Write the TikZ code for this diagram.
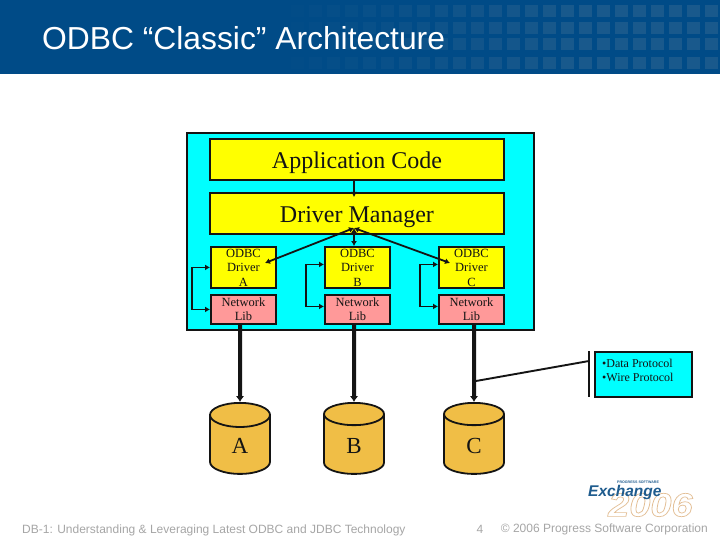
\documentclass[tikz,border=0pt]{standalone}
\usepackage{fontspec}
\setmainfont{Liberation Serif}
\newfontfamily\arialfont{Liberation Sans}
\usetikzlibrary{shapes.geometric,arrows.meta,calc}
\definecolor{hdr}{HTML}{004B87}
\definecolor{tile}{HTML}{19598C}
\definecolor{boxcy}{HTML}{00FFFF}
\definecolor{drvy}{HTML}{FFFF00}
\definecolor{netp}{HTML}{FF9999}
\definecolor{dbor}{HTML}{F0BE46}
\definecolor{edge}{HTML}{141414}
\definecolor{foot}{HTML}{A6A6A6}
\definecolor{logob}{HTML}{1F5C8E}
\definecolor{logoo}{HTML}{E4BE96}
\newcommand{\lowered}[2]{\raisebox{-#1}[0pt][0pt]{#2}}
\tikzset{
 x=1pt,y=-1pt,
 panel/.style={draw=edge,line width=1.9pt,fill=drvy,anchor=north west,inner sep=0pt,align=center,text=edge},
 big/.style={panel,font=\fontsize{24}{26}\selectfont,minimum width=294pt,minimum height=41pt},
 driver/.style={panel,font=\fontsize{12.5}{14.5}\selectfont,minimum width=65pt,minimum height=41pt},
 netlib/.style={panel,fill=netp,font=\fontsize{12.5}{14.5}\selectfont,minimum width=65pt,minimum height=29pt},
 db/.style={cylinder,shape border rotate=90,aspect=1.45,cylinder uses custom fill,cylinder body fill=dbor,cylinder end fill=dbor,
   draw=edge,line width=1.8pt,minimum width=60pt,minimum height=71pt,inner sep=0pt,anchor=north,font=\fontsize{23}{25}\selectfont,text=edge},
 link/.style={draw=edge,line width=1.8pt,{Latex[length=5pt,width=6pt]}-{Latex[length=5pt,width=6pt]}},
 oneway/.style={draw=edge,line width=1.8pt,-{Latex[length=5pt,width=6pt]}},
 plainline/.style={draw=edge,line width=1.9pt},
 bus/.style={draw=edge,line width=4pt,-{Latex[length=6pt,width=8.5pt]}},
 footer/.style={text=foot,font=\arialfont\fontsize{12}{14}\selectfont,inner sep=0pt},
}
\begin{document}
\begin{tikzpicture}
\useasboundingbox (0,0) rectangle (720,540);
\fill[white] (0,0) rectangle (720,540);
\fill[hdr] (0,0) rectangle (720,74);
\foreach \r in {5,22,38,57}{
 \foreach \c in {0,...,23}{
  \pgfmathtruncatemacro{\mixv}{min(100,8+6*\c)}
  \fill[tile!\mixv!hdr] ({291+18*\c},\r) rectangle ++(13,12);
 }
}
\node[anchor=west,text=white,inner sep=0pt,font=\arialfont\fontsize{31.8}{33}\selectfont] (title) at (42,38) {ODBC “Classic” Architecture};
% outer panel
\node[draw=edge,line width=1.9pt,fill=boxcy,anchor=north west,minimum width=347pt,minimum height=197pt,inner sep=0pt] (outer) at (186,132) {};
\node[big] (app) at (209,138) {\lowered{9pt}{Application Code}};
\node[big] (dm) at (209,192) {\lowered{9pt}{Driver Manager}};
\node[driver] (dA) at (210,246) {ODBC\\Driver\\A};
\node[driver] (dB) at (324,246) {ODBC\\Driver\\B};
\node[driver] (dC) at (438,246) {ODBC\\Driver\\C};
\node[netlib] (nA) at (210,294) {Network\\Lib};
\node[netlib] (nB) at (324,294) {Network\\Lib};
\node[netlib] (nC) at (438,294) {Network\\Lib};
\coordinate (hub) at (354,228);
\coordinate (tipA) at (265,263);
\coordinate (tipC) at (450,263);
\coordinate (appdrop) at (354,197);
\draw[oneway] (app.south -| hub) -- (appdrop);
\draw[link] (hub) -- (dB.north -| hub);
\draw[link] (hub) -- (tipA);
\draw[link] (hub) -- (tipC);
% driver to network loops
\draw[link] (dA.west) -- ++(-18,0) |- (nA.west);
\draw[link] ([yshift=3pt]dB.west) -- ++(-18,0) |- ([yshift=3pt]nB.west);
\draw[link] ([yshift=3pt]dC.west) -- ++(-18,0) |- ([yshift=3pt]nC.west);
% databases
\node[db] (dbA) at (240,402) {\lowered{9pt}{A}};
\node[db] (dbB) at (354,402) {\lowered{9pt}{B}};
\node[db] (dbC) at (474,402) {\lowered{9pt}{C}};
\draw[bus] (nA.south -| dbA) -- (dbA.north);
\draw[bus] (nB.south -| dbB) -- (dbB.north);
\draw[bus] (nC.south -| dbC) -- (dbC.north);
% protocol note
\node[panel,fill=boxcy,minimum width=97pt,minimum height=45pt] (note) at (594,351) {};
\node[anchor=north west,inner sep=0pt,align=left,text=edge,font=\fontsize{12}{14}\selectfont] (notetext) at (602,359) {•Data Protocol\\•Wire Protocol};
\coordinate (barT) at (589,351);
\coordinate (barB) at (589,397);
\coordinate (barM) at (589,361);
\coordinate (busJ) at (476,381);
\draw[plainline] (barT) -- (barB);
\draw[plainline] (barM) -- (busJ);
% footer
\node[footer,anchor=west] (f1) at (22,530) {DB-1: Understanding \& Leveraging Latest ODBC and JDBC Technology};
\node[footer,anchor=center] (f2) at (480,529) {4};
\node[footer,anchor=east] (f3) at (708,529) {© 2006 Progress Software Corporation};
% logo
\node[anchor=west,inner sep=0pt,text=logoo,font=\arialfont\bfseries\itshape\fontsize{33}{34}\selectfont] (y2006) at (608,505) {\scalebox{1.15}[1]{\special{pdf:code 1 Tr 0.7 w 0.89 0.75 0.59 RG}2006\special{pdf:code 0 Tr}}};
\node[anchor=west,inner sep=0pt,text=logob,font=\arialfont\bfseries\itshape\fontsize{15.5}{16}\selectfont] (ex) at (588,492) {Exchange};
\node[inner sep=0pt,text=logob,font=\arialfont\bfseries\fontsize{3.6}{4}\selectfont] (prog) at (638,482.5) {PROGRESS SOFTWARE};
\end{tikzpicture}
\end{document}
